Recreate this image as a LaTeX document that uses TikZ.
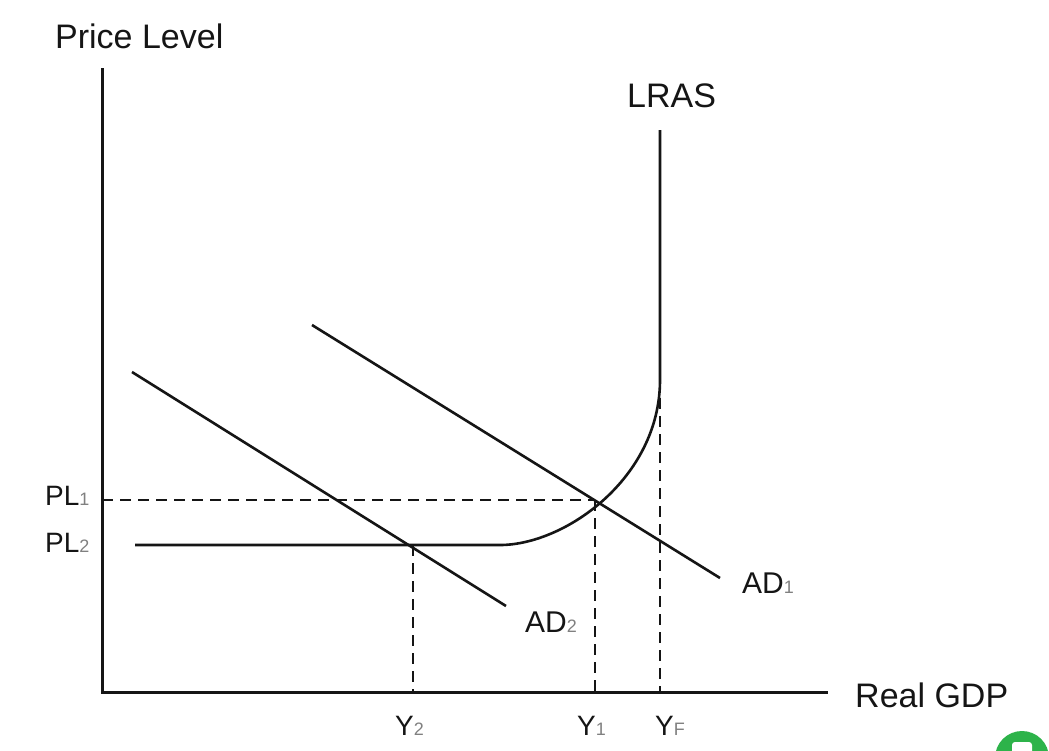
\documentclass[tikz,border=0pt]{standalone}
\usepackage{fontspec}
\setmainfont{Liberation Sans}
\newcommand\subtxt[1]{{\fontsize{18}{18}\selectfont\color{subgray}#1}}
\definecolor{subgray}{HTML}{808080}
\definecolor{ink}{HTML}{151515}
\definecolor{badge}{HTML}{2DB34A}
\begin{document}
\begin{tikzpicture}[x=1pt,y=-1pt,
  axis/.style={line width=3pt,draw=ink},
  curve/.style={line width=2.6pt,draw=ink},
  guide/.style={line width=2.6pt,draw=ink,dash pattern=on 11pt off 7pt},
  lbl/.style={inner sep=0pt,anchor=base west,text=ink},
  big/.style={font=\fontsize{34}{34}\selectfont},
  mid/.style={font=\fontsize{30}{30}\selectfont},
  small/.style={font=\fontsize{28}{28}\selectfont}]
\useasboundingbox[fill=white] (0,0) rectangle (1049,750);
% axes
\coordinate (O) at (102,692);
\coordinate (ytop) at (102,68);
\coordinate (xend) at (828,692);
\draw[axis] (ytop) -- (O) -- (xend);
% key points
\coordinate (E1) at (595,500);
\coordinate (E2) at (413,545);
\coordinate (YFtop) at (660,380);
\coordinate (LRtop) at (660,130);
\coordinate (PL2start) at (135,545);
\coordinate (bend) at (500,545);
\coordinate (PL1axis) at (102,500);
\coordinate (Y1axis) at (595,692);
\coordinate (Y2axis) at (413,692);
\coordinate (YFaxis) at (660,692);
% guides
\draw[guide] (PL1axis) -- (E1);
\draw[guide] (E1) -- (Y1axis);
\draw[guide] (E2) -- (Y2axis);
\draw[guide] (YFtop) -- (YFaxis);
% AS curve
\draw[curve] (PL2start) -- (bend) .. controls (565,545) and (660,478) .. (YFtop) -- (LRtop);
% AD curves
\coordinate (AD1a) at (312,325);
\coordinate (AD1b) at (720,578);
\coordinate (AD2a) at (132,372);
\coordinate (AD2b) at (506,606);
\draw[curve] (AD1a) -- (AD1b);
\draw[curve] (AD2a) -- (AD2b);
% labels
\node[lbl,big] (pl) at (55,48) {Price Level};
\node[lbl,big] (lras) at (627,107) {LRAS};
\node[lbl,big] (gdp) at (855,707) {Real GDP};
\node[lbl,small] (pl1) at (45,505) {PL\subtxt{1}};
\node[lbl,small] (pl2) at (45,552) {PL\subtxt{2}};
\node[lbl,mid] (ad1) at (742,593) {AD\subtxt{1}};
\node[lbl,mid] (ad2) at (525,632) {AD\subtxt{2}};
\node[lbl,small] (y2) at (395,735) {Y\subtxt{2}};
\node[lbl,small] (y1) at (577,735) {Y\subtxt{1}};
\node[lbl,small] (yf) at (655,735) {Y\subtxt{F}};
% corner badge (partially visible)
\begin{scope}
\clip (0,0) rectangle (1049,750);
\fill[badge] (1022,758) circle (27);
\fill[white,rounded corners=3pt] (1012,742) rectangle (1032,760);
\end{scope}
\end{tikzpicture}
\end{document}
